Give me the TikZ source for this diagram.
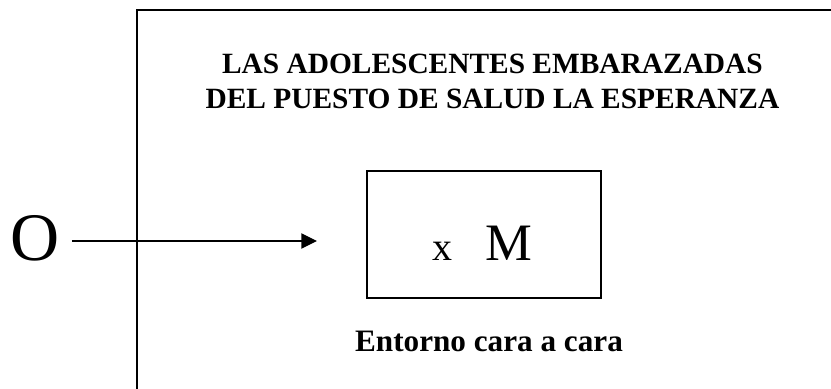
\documentclass[tikz,border=0pt]{standalone}
\usepackage{fontspec}
\setmainfont{Liberation Serif}
\usetikzlibrary{positioning, arrows.meta}

\begin{document}
\begin{tikzpicture}
              [x=0.5pt, y=-0.5pt,
               titulo/.style={font=\fontsize{14.7}{17.5}\selectfont\bfseries, align=center, inner sep=0pt},
               caja/.style={rectangle, draw, line width=1.3pt, minimum width=117pt, minimum height=63.5pt, inner sep=0pt},
               flecha/.style={-{Triangle[length=7.8pt, width=7.6pt]}, line width=.6pt}]
              \useasboundingbox (0,0) rectangle (831,389);
              \clip (0,0) rectangle (831,389);
              % marco %
              \draw[line width=1.2pt] (137,400) |- (840,10);

              % nodes %
              \node[titulo] (titulo) at (492.5,81) {LAS ADOLESCENTES EMBARAZADAS\\DEL PUESTO DE SALUD LA ESPERANZA};
              \node[caja] (caja) at (484,234.5) {};
              \node[anchor=base, inner sep=0pt] (xm) at (482.5,261) {{\fontsize{20}{20}\selectfont x}\hspace{16.5pt}{\fontsize{26.3}{27}\selectfont M}};
              \node[anchor=base, font=\fontsize{15.6}{18}\selectfont\bfseries, inner sep=0pt] (entorno) at (489,352) {Entorno cara a cara};
              \node[font=\fontsize{34}{34}\selectfont, inner sep=0pt, inner xsep=6pt] (o) at (35,238.5) {O};
              \coordinate (punta) at (317,241);

              % edges %
              \draw[flecha] (o.east |- punta) -- (punta);
            \end{tikzpicture}
\end{document}
